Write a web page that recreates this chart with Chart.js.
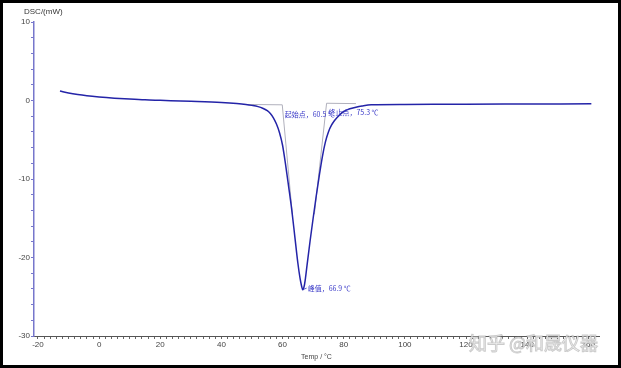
<!DOCTYPE html>
<html>
<head>
<meta charset="utf-8">
<script src="https://cdn.jsdelivr.net/npm/chart.js@4"></script>
<style>
  body { margin: 0; background: #fff; }
  #wrap { width: 615px; height: 362px; border: 3px solid #000; background: #fff; }
</style>
</head>
<body>
<div id="wrap"><canvas id="dscChart" width="615" height="362"></canvas></div>
<script>
// courbe DSC (température en °C, flux en mW)
const temps = [-12.8, -10, -7, -4, 0, 5, 10, 15, 20, 30, 40, 45, 48, 50, 52, 53.5, 55, 56, 57, 58, 59, 60, 61, 62, 63, 64, 65, 65.7, 66.2, 66.6, 67.1, 67.5, 68, 69, 70, 71, 72, 73, 74, 75, 76, 77, 78, 79, 80, 82, 84, 86, 89, 100, 120, 140, 161];
const dsc = [1.2, 0.95, 0.75, 0.6, 0.45, 0.3, 0.18, 0.08, 0.02, -0.1, -0.25, -0.38, -0.5, -0.62, -0.78, -0.98, -1.3, -1.65, -2.2, -3.0, -4.1, -5.7, -8.2, -11.0, -13.9, -17.3, -20.7, -22.6, -23.6, -24.1, -23.6, -22.6, -21.0, -17.9, -15.0, -12.2, -9.6, -7.2, -5.3, -4.0, -3.15, -2.55, -2.1, -1.7, -1.4, -1.05, -0.85, -0.7, -0.55, -0.5, -0.48, -0.45, -0.42];

// lignes de construction (ligne de base + tangentes)
const onsetX = [47, 59.9, 63.2];
const onsetY = [-0.5, -0.55, -14.5];
const endsetX = [70.4, 74.4, 84];
const endsetY = [-14.5, -0.35, -0.4];

// annotations
const annoText = ["起始点，60.5 ℃", "终止点，75.3 ℃", "峰值，66.9 ℃"];
const annoX = [60.7, 75.0, 68.2];
const annoY = [-1.75, -1.5, -23.9];

// graduations
const xLabels = [-20, 0, 20, 40, 60, 80, 100, 120, 140, 160];
const yLabels = [-30, -20, -10, 0, 10];

function toPts(xs, ys) {
    return xs.map((x, k) => ({ x: x, y: ys[k] }));
}

const xMinor = [];
for (let v = -20; v <= 162; v += 2) xMinor.push(v);
const yMinor = [];
for (let v = -30; v <= 10; v += 2) yMinor.push(v);

const textPlugin = {
    id: "textPlugin",
    afterDraw(chart) {
        const ctx = chart.ctx;
        const xs = chart.scales.x, ys = chart.scales.y;
        ctx.save();
        // titre de l'axe y
        ctx.fillStyle = "#333";
        ctx.font = "8px 'Liberation Sans', Arial";
        ctx.textBaseline = "middle";
        ctx.textAlign = "left";
        ctx.fillText("DSC/(mW)", 21, 9);

        // annotations des points caractéristiques
        ctx.fillStyle = "#3a3ac8";
        ctx.font = "7px 'Noto Sans CJK SC'";
        for (let k = 0; k < annoText.length; k++) {
            ctx.fillText(annoText[k], xs.getPixelForValue(annoX[k]), ys.getPixelForValue(annoY[k]));
        }
        // petit trait vers le pic
        ctx.strokeStyle = "#3a3ac8";
        ctx.lineWidth = 0.8;
        ctx.beginPath();
        ctx.moveTo(xs.getPixelForValue(66.6), ys.getPixelForValue(-24.1));
        ctx.lineTo(xs.getPixelForValue(annoX[2]) - 1, ys.getPixelForValue(annoY[2]));
        ctx.stroke();

        // filigrane
        ctx.font = "18px 'Noto Sans CJK SC'";
        ctx.textAlign = "left";
        ctx.fillStyle = "rgba(255,255,255,0.9)";
        ctx.strokeStyle = "rgba(140,140,140,0.45)";
        ctx.lineWidth = 1;
        ctx.fillText("知乎 @和晟仪器", 466, 340);
        ctx.strokeText("知乎 @和晟仪器", 466, 340);
        ctx.restore();
    },
};

let dscCan = document.getElementById("dscChart").getContext("2d");
var dscChart = new Chart(dscCan, {
    type: "scatter",
    data: {
        datasets: [{
            label: "DSC",
            data: toPts(temps, dsc),
            showLine: true,
            borderColor: "#2424a8",
            borderWidth: 1.5,
            pointRadius: 0,
            cubicInterpolationMode: "monotone",
            order: 0,
        }, {
            label: "onset",
            data: toPts(onsetX, onsetY),
            showLine: true,
            borderColor: "#b0b0bc",
            borderWidth: 1,
            pointRadius: 0,
            order: 1,
        }, {
            label: "endset",
            data: toPts(endsetX, endsetY),
            showLine: true,
            borderColor: "#b0b0bc",
            borderWidth: 1,
            pointRadius: 0,
            order: 1,
        }, ],
    },
    options: {
        responsive: false,
        animation: false,
        layout: {
            padding: { top: 19, right: 19, left: 0, bottom: 0 },
        },
        scales: {
            x: {
                type: "linear",
                min: -21.3,
                max: 163.5,
                afterBuildTicks: (axis) => { axis.ticks = xMinor.map(v => ({ value: v })); },
                afterFit: (axis) => { axis.height = 29; },
                ticks: {
                    autoSkip: false,
                    maxRotation: 0,
                    padding: 1,
                    color: "#444",
                    font: { size: 8, family: "'Liberation Sans', Arial" },
                    callback: (v) => xLabels.includes(v) ? String(v) : "",
                },
                grid: { drawOnChartArea: false, tickLength: 3, color: "#666" },
                border: { color: "#555", width: 1 },
                title: {
                    display: true,
                    text: "Temp / °C",
                    color: "#444",
                    font: { size: 7, family: "'Liberation Sans', Arial" },
                    padding: { top: 0, bottom: 4 },
                },
            },
            y: {
                min: -30,
                max: 10,
                afterBuildTicks: (axis) => { axis.ticks = yMinor.map(v => ({ value: v })); },
                afterFit: (axis) => { axis.width = 31; },
                ticks: {
                    autoSkip: false,
                    padding: 1,
                    color: "#444",
                    font: { size: 8, family: "'Liberation Sans', Arial" },
                    callback: (v) => yLabels.includes(v) ? String(v) : "",
                },
                grid: { drawOnChartArea: false, tickLength: 3, color: "#7777cc" },
                border: { color: "#7777cc", width: 1.5 },
            },
        },
        plugins: {
            legend: { display: false },
            tooltip: { enabled: false },
        },
    },
    plugins: [textPlugin],
});
</script>
</body>
</html>
